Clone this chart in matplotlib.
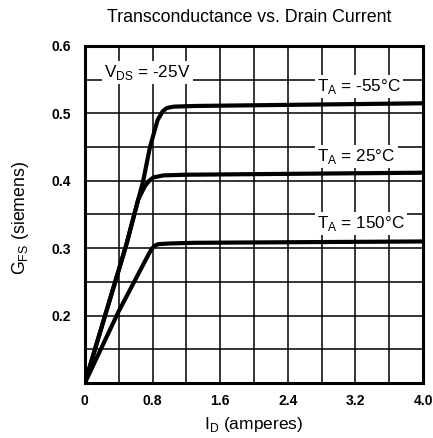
import matplotlib
matplotlib.use("Agg")
import matplotlib.pyplot as plt

# curves: I_D (A) vs G_FS (S)
id_m55 = [0.0, 0.49, 0.69, 0.77, 0.86, 0.92, 0.97, 1.05, 1.3, 4.0]
gfs_m55 = [0.1, 0.305, 0.40, 0.45, 0.49, 0.503, 0.508, 0.510, 0.511, 0.515]

id_25 = [0.0, 0.49, 0.63, 0.71, 0.76, 0.81, 0.93, 1.2, 4.0]
gfs_25 = [0.1, 0.305, 0.372, 0.392, 0.400, 0.405, 0.408, 0.409, 0.412]

id_150 = [0.0, 0.395, 0.75, 0.79, 0.83, 0.87, 1.0, 1.3, 4.0]
gfs_150 = [0.1, 0.205, 0.29, 0.299, 0.304, 0.306, 0.307, 0.308, 0.310]

x_ticks = [0, 0.8, 1.6, 2.4, 3.2, 4.0]
x_labels = ["0", "0.8", "1.6", "2.4", "3.2", "4.0"]
y_ticks = [0.2, 0.3, 0.4, 0.5, 0.6]
y_labels = ["0.2", "0.3", "0.4", "0.5", "0.6"]

plt.rcParams['font.family'] = ['Liberation Sans', 'DejaVu Sans']

fig = plt.figure(figsize=(4.33, 4.38), dpi=100)
ax = fig.add_axes([0.196, 0.1256, 0.781, 0.7694])

# grid
for i in range(11):
    ax.axvline(i * 0.4, color="black", lw=1.1, zorder=1)
for j in range(11):
    ax.axhline(0.1 + j * 0.05, color="black", lw=1.1, zorder=1)

for xs, ys in [(id_m55, gfs_m55), (id_25, gfs_25), (id_150, gfs_150)]:
    ax.plot(xs, ys, color="black", lw=3.0, solid_capstyle="round",
            solid_joinstyle="round", zorder=3)

ax.set_xlim(0, 4.0)
ax.set_ylim(0.1, 0.6)
ax.set_xticks(x_ticks)
ax.set_xticklabels(x_labels, fontweight="bold")
ax.set_yticks(y_ticks)
ax.set_yticklabels(y_labels, fontweight="bold")
ax.tick_params(length=0, labelsize=10, pad=8)
ax.tick_params(axis="y", pad=10)
for s in ax.spines.values():
    s.set_linewidth(2.2)
    s.set_zorder(4)

box = dict(facecolor="white", edgecolor="none", pad=1.5)
ax.text(0.23, 0.5606, r"V$_{\mathregular{DS}}$ = -25V", fontsize=12.3,
        va="center", ha="left", bbox=box, zorder=5)
ax.text(2.75, 0.54, r"T$_{\mathregular{A}}$ = -55°C", fontsize=12.3,
        va="center", ha="left", bbox=box, zorder=5)
ax.text(2.75, 0.4365, r"T$_{\mathregular{A}}$ = 25°C", fontsize=12.3,
        va="center", ha="left", bbox=box, zorder=5)
ax.text(2.75, 0.336, r"T$_{\mathregular{A}}$ = 150°C", fontsize=12.3,
        va="center", ha="left", bbox=box, zorder=5)

ax.set_title("Transconductance vs. Drain Current", fontsize=12.8, pad=17,
             x=0.485)
ax.set_xlabel(r"I$_{\mathregular{D}}$ (amperes)", fontsize=12.5, va="center")
ax.xaxis.set_label_coords(0.5, -0.122)
ax.set_ylabel(r"G$_{\mathregular{FS}}$ (siemens)", fontsize=12.8, va="center")
ax.yaxis.set_label_coords(-0.19, 0.49)

fig.savefig("out.png", dpi=100)
